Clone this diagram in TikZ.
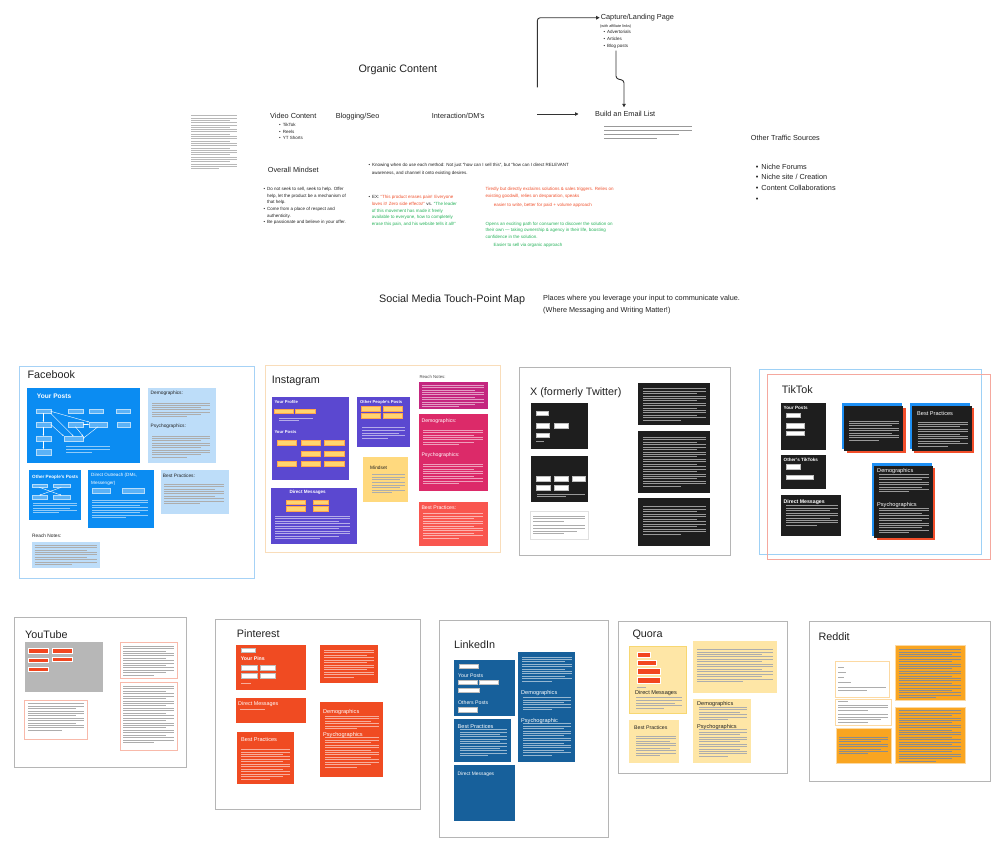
\documentclass[tikz,border=0pt]{standalone}
\usepackage{fontspec}
\setmainfont{Liberation Sans}
\usetikzlibrary{arrows.meta}
\definecolor{ink}{HTML}{222222}
\definecolor{exred}{HTML}{F0522E}
\definecolor{exgreen}{HTML}{27B35B}
\definecolor{fbblue}{HTML}{0B8CF2}
\definecolor{fblight}{HTML}{BDDDF9}
\definecolor{fbframe}{HTML}{A6D2F6}
\definecolor{fbbtn}{HTML}{5BB2F7}
\definecolor{igpurple}{HTML}{5B48D0}
\definecolor{igyellow}{HTML}{FFD470}
\definecolor{igmindset}{HTML}{FFD97E}
\definecolor{igmag}{HTML}{C4267F}
\definecolor{igpink}{HTML}{DC2A69}
\definecolor{igred}{HTML}{F9564F}
\definecolor{igframe}{HTML}{F9DDBA}
\definecolor{xdark}{HTML}{1E1E1E}
\definecolor{frame}{HTML}{B5B5B5}
\definecolor{tkblue}{HTML}{1E90F5}
\definecolor{tkred}{HTML}{F24E2A}
\definecolor{tkframeb}{HTML}{9ED1F6}
\definecolor{tkframer}{HTML}{F5A89E}
\definecolor{ytgray}{HTML}{B7B7B7}
\definecolor{ytred}{HTML}{F2461F}
\definecolor{ytcard}{HTML}{F8B9AA}
\definecolor{pired}{HTML}{F04B22}
\definecolor{liblue}{HTML}{17609B}
\definecolor{quyellow}{HTML}{FEE6A6}
\definecolor{quborder}{HTML}{F7D772}
\definecolor{rdorange}{HTML}{F9A521}
\definecolor{rdlight}{HTML}{FCD9A2}
% text placeholder lines: x, y, width, count, spacing, style
\newcommand{\tls}[6]{\foreach \k in {1,...,#4}{\pgfmathsetmacro{\ww}{(\k==#4)?0.6*#3:((mod(\k,3)==0)?0.85*#3:#3)}\draw[#6] (#1,{#2+(\k-1)*#5}) -- ++(\ww,0);}}
% rectangle node: name, style, x1, y1, x2, y2
\newcommand{\bnode}[6]{\node[#2, anchor=north west, inner sep=0, outer sep=0, minimum width={(#5)-(#3)}, minimum height={(#6)-(#4)}] (#1) at (#3,#4) {};}
\begin{document}
\begin{tikzpicture}[x=1pt,y=-1pt,
  tk/.style={line width=0.4pt, draw=black!32},
  tw/.style={line width=0.4pt, draw=white, draw opacity=0.55},
  ttl/.style={anchor=base west, inner sep=0, yshift=-3.9pt, font=\fontsize{10.8}{12}\selectfont, text=ink},
  hd/.style={anchor=base west, inner sep=0, yshift=-2.6pt, font=\fontsize{7.3}{9}\selectfont, text=ink},
  bl/.style={anchor=base west, inner sep=0, yshift=-1.6pt, font=\fontsize{4.5}{6}\selectfont, text=ink},
  sw/.style={anchor=base west, inner sep=0, yshift=-1.7pt, font=\bfseries\fontsize{4.6}{6}\selectfont, text=white},
  sd/.style={anchor=base west, inner sep=0, yshift=-1.7pt, font=\fontsize{4.8}{6}\selectfont, text=ink},
  mw/.style={anchor=base west, inner sep=0, yshift=-2pt, font=\fontsize{5.6}{7}\selectfont, text=white},
  md/.style={anchor=base west, inner sep=0, yshift=-2pt, font=\fontsize{5.6}{7}\selectfont, text=ink},
  arr/.style={draw=black!80, line width=0.9pt, -{Triangle[length=3.5pt,width=3.5pt]}},
  fbb/.style={fill=fbbtn, draw=white!70!fbblue, line width=0.3pt},
  fba/.style={draw=white, line width=0.4pt, -{Stealth[length=1.6pt,width=1.4pt]}},
  igb/.style={fill=igyellow, draw=orange!70, line width=0.3pt},
  wb/.style={fill=white, draw=black!25, line width=0.3pt},
  rb/.style={fill=ytred, draw=white, line width=0.4pt}
]
\useasboundingbox (0,0) rectangle (1005,852);
\fill[white] (0,0) rectangle (1005,852);

% ===================== TOP: Organic content =====================
\node[ttl] (organic) at (358.3,68.3) {Organic Content};
\tls{191}{115.5}{46}{24}{2.3}{tk, line width=0.3pt, draw=black!28}
\node[hd] (video) at (270,116) {Video Content};
\node[bl] (v1) at (279,125) {\textbullet\hspace{2pt}TikTok};
\node[bl] (v2) at (279,131.5) {\textbullet\hspace{2pt}Reels};
\node[bl] (v3) at (279,138) {\textbullet\hspace{2pt}YT Shorts};
\node[hd] (blog) at (335.7,116) {Blogging/Seo};
\node[hd] (inter) at (431.7,116) {Interaction/DM's};

\node[hd] (capture) at (600.7,17) {Capture/Landing Page};
\node[bl, font=\fontsize{3.8}{5}\selectfont] (aff) at (600,25.7) {(with affiliate links)};
\node[bl] (c1) at (603.3,32.3) {\textbullet\hspace{2pt}Advertorials};
\node[bl] (c2) at (603.3,39) {\textbullet\hspace{2pt}Articles};
\node[bl] (c3) at (603.3,45.7) {\textbullet\hspace{2pt}Blog posts};
\node[hd] (email) at (595,114) {Build an Email List};
\tls{604}{126}{88}{4}{4}{tk, line width=0.35pt, draw=black!40}

\coordinate (a1) at (537.3,114);
\draw[arr, shorten >=16.5pt] (a1) -- (a1 -| email.west);
\coordinate (a2) at (537.3,87.3);
\draw[arr, rounded corners=3pt, shorten >=1pt] (a2) |- (capture.west);
\coordinate (b1) at (616,50.7);
\coordinate (b2) at (624,107.3);
\draw[arr, rounded corners=2.5pt] (b1) -- (616,78.5) -- (624,80.5) -- (b2);

\node[hd] (other) at (750.7,138.3) {Other Traffic Sources};
\node[hd] (o1) at (755.7,166.7) {\textbullet\hspace{3pt}Niche Forums};
\node[hd] (o2) at (755.7,177.3) {\textbullet\hspace{3pt}Niche site / Creation};
\node[hd] (o3) at (755.7,188) {\textbullet\hspace{3pt}Content Collaborations};
\node[hd] (o4) at (755.7,199) {\textbullet};

\node[hd] (mind) at (267.7,170) {Overall Mindset};
\node[bl] (m1) at (263.3,189) {\textbullet\hspace{2pt}Do not seek to sell, seek to help. Offer};
\node[bl] (m2) at (267,195.7) {help, let the product be a mechanism of};
\node[bl] (m3) at (267,202.3) {that help.};
\node[bl] (m4) at (263.3,209) {\textbullet\hspace{2pt}Come from a place of respect and};
\node[bl] (m5) at (267,215.7) {authenticity.};
\node[bl] (m6) at (263.3,222.3) {\textbullet\hspace{2pt}Be passionate and believe in your offer.};

\node[bl] (k1) at (368.3,165.3) {\textbullet\hspace{2pt}Knowing when do use each method: Not just “how can I sell this”, but “how can I direct RELEVANT};
\node[bl] (k2) at (371.7,172.7) {awareness, and channel it onto existing desires.};

\node[bl] (e1) at (368.3,197.3) {\textbullet\hspace{2pt}EX: \textcolor{exred}{“This product erases pain! Everyone}};
\node[bl] (e2) at (371.7,204) {\textcolor{exred}{loves it! Zero side effects!”} vs. \textcolor{exgreen}{“The leader}};
\node[bl, text=exgreen] (e3) at (371.7,210.7) {of this movement has made it freely};
\node[bl, text=exgreen] (e4) at (371.7,217.3) {available to everyone, how to completely};
\node[bl, text=exgreen] (e5) at (371.7,224) {erase this pain, and his website tells it all!”};

\node[bl, text=exred] (r1) at (485.3,189.3) {Tiredly but directly exclaims solutions \& sales triggers. Relies on};
\node[bl, text=exred] (r2) at (485.3,196) {existing goodwill, relies on desparation, speaks};
\node[bl, text=exred] (r3) at (493.7,205.3) {easier to write, better for paid + volume approach};
\node[bl, text=exgreen] (g1) at (485.3,223.7) {Opens an exciting path for consumer to discover the solution on};
\node[bl, text=exgreen] (g2) at (485.3,230.3) {their own — taking ownership \& agency in their life, boosting};
\node[bl, text=exgreen] (g3) at (485.3,237) {confidence in the solution.};
\node[bl, text=exgreen] (g4) at (493.3,245.3) {Easier to sell via organic approach};

\node[ttl] (smap) at (379,299) {Social Media Touch-Point Map};
\node[hd] (pl1) at (543,298) {Places where you leverage your input to communicate value.};
\node[hd] (pl2) at (543,310) {(Where Messaging and Writing Matter!)};

% ===================== FACEBOOK =====================
\bnode{fbF}{draw=fbframe, line width=0.9pt}{19.3}{366}{254.3}{578.3}
\node[ttl] (fbT) at (27.3,374.3) {Facebook};
\bnode{fbA}{fill=fbblue}{27.3}{387.7}{140.3}{462.7}
\node[sw, yshift=-0.7pt, font=\bfseries\fontsize{6.6}{8}\selectfont] (fbAt) at (36.7,395.7) {Your Posts};
\bnode{fb1}{fbb}{36}{409.3}{50.7}{413.3}
\bnode{fb2}{fbb}{68}{409.3}{82.7}{413.3}
\bnode{fb3}{fbb}{89}{409.3}{103}{413.3}
\bnode{fb4}{fbb}{115.7}{409.3}{130}{413.3}
\bnode{fb5}{fbb}{36}{422}{50.7}{426.7}
\bnode{fb6}{fbb}{68}{422}{82.7}{426.7}
\bnode{fb7}{fbb}{89}{422}{107}{426.7}
\bnode{fb8}{fbb}{116.7}{422}{130}{426.7}
\bnode{fb9}{fbb}{36}{436}{50.7}{441}
\bnode{fb10}{fbb}{63.7}{436}{83}{441}
\bnode{fb11}{fbb}{36}{449}{50.7}{455}
\draw[fba] (fb1) -- (fb5);
\draw[fba] (fb5) -- (fb9);
\draw[fba] (fb9) -- (fb11);
\draw[fba] (fb1.east) -- (fb7.north west);
\draw[fba] (fb1.south east) -- (fb10.north);
\draw[fba] (fb5.east) -- (fb10.north west);
\draw[fba] (fb6.south) -- (fb10.north east);
\draw[fba] (fb7.south) -- (fb10.east);
\draw[fba] (fb6.east) -- (fb7.west);
\tls{66}{446.5}{44}{3}{2.6}{tw}
\bnode{fbD}{fill=fblight}{147.7}{387.7}{215.7}{463.3}
\node[sd] (fbDt) at (150.5,393) {Demographics:};
\tls{152}{402.7}{58}{7}{2.3}{tk}
\node[sd] (fbPt) at (150.5,425.7) {Psychographics:};
\tls{152}{436}{58}{10}{2.3}{tk}
\bnode{fbO}{fill=fbblue}{29}{470}{81.3}{520}
\node[sw] (fbOt) at (32,476.3) {Other People's Posts};
\bnode{fbo1}{fbb}{32}{483.7}{46.7}{487.3}
\bnode{fbo2}{fbb}{52.7}{483.7}{70}{487.3}
\bnode{fbo3}{fbb}{32}{495.3}{46.7}{499.3}
\bnode{fbo4}{fbb}{52.7}{495.3}{70}{499.3}
\draw[fba] (fbo1.south) -- (fbo4.north);
\draw[fba] (fbo2.south) -- (fbo3.north);
\tls{33}{503}{44}{5}{2.4}{tw}
\bnode{fbM}{fill=fbblue}{88.3}{470}{153.7}{528.3}
\node[sw, font=\fontsize{4.6}{6}\selectfont] (fbMt1) at (91,474.7) {Direct Outreach (DMs,};
\node[sw, font=\fontsize{4.6}{6}\selectfont] (fbMt2) at (91,482.7) {Messenger)};
\bnode{fbm1}{fbb}{91.7}{488.3}{110}{492.7}
\bnode{fbm2}{fbb}{121.7}{488.3}{144}{492.7}
\tls{92}{500}{56}{8}{2.5}{tw}
\bnode{fbB}{fill=fblight}{160.7}{470}{228.7}{514}
\node[sd] (fbBt) at (162.7,476) {Best Practices:};
\tls{164}{484}{60}{9}{2.4}{tk}
\node[sd] (fbRt) at (32,535.7) {Reach Notes:};
\bnode{fbR}{fill=fblight}{32}{541.7}{100}{568.3}
\tls{34.5}{545}{62}{9}{2.4}{tk}

% ===================== INSTAGRAM =====================
\bnode{igF}{draw=igframe, line width=0.9pt}{265.7}{365}{500}{552.7}
\node[ttl] (igT) at (271.7,380) {Instagram};
\bnode{igA}{fill=igpurple}{271.7}{397.3}{349.3}{480}
\node[sw, font=\bfseries\fontsize{4.2}{5}\selectfont] (igAt) at (274.3,402) {Your Profile};
\bnode{iga1}{igb}{274}{408.7}{293.3}{412.7}
\bnode{iga2}{igb}{295.3}{408.7}{314.7}{412.7}
\tls{279}{417.7}{34}{2}{2.8}{tw}
\node[sw, font=\bfseries\fontsize{4.2}{5}\selectfont] (igApt) at (274.3,432) {Your Posts};
\bnode{igp1}{igb}{276.7}{440.3}{296}{445}
\bnode{igp2}{igb}{300.7}{440.3}{320}{445}
\bnode{igp3}{igb}{324.3}{440.3}{344}{445}
\bnode{igp4}{igb}{300.7}{450.7}{320}{455.7}
\bnode{igp5}{igb}{324.3}{450.7}{344}{455.7}
\bnode{igp6}{igb}{276.7}{461}{296}{466}
\bnode{igp7}{igb}{300.7}{461}{320}{466}
\bnode{igp8}{igb}{324.3}{461}{344}{466}
\bnode{igO}{fill=igpurple}{357.3}{397.3}{410}{447.3}
\node[sw, font=\bfseries\fontsize{4.2}{5}\selectfont] (igOt) at (360,402) {Other People's Posts};
\bnode{igo1}{igb}{360.7}{406}{380}{410.7}
\bnode{igo2}{igb}{382.7}{406}{402}{410.7}
\bnode{igo3}{igb}{360.7}{413.3}{380}{418}
\bnode{igo4}{igb}{382.7}{413.3}{402}{418}
\tls{362}{427.3}{43}{5}{2.7}{tw}
\bnode{igMs}{fill=igmindset}{362.7}{457.3}{408.3}{501.7}
\node[sd, font=\fontsize{4.8}{6}\selectfont] (igMst) at (370,467.7) {Mindset};
\tls{372}{474.3}{33}{8}{2.6}{tk}
\bnode{igD}{fill=igpurple}{271}{487.7}{356.7}{544.3}
\node[sw, font=\bfseries\fontsize{4.6}{6}\selectfont] (igDt) at (289.3,492) {Direct Messages};
\bnode{igd1}{igb}{286}{500}{305}{504.3}
\bnode{igd2}{igb}{312.7}{500}{327.7}{504.3}
\bnode{igd3}{igb}{286}{506}{305}{510.7}
\bnode{igd4}{igb}{312.7}{506}{327.7}{510.7}
\tls{275}{515.7}{75}{10}{2.5}{tw}
\node[sd, font=\fontsize{4.3}{5}\selectfont, text=black!70] (igRt) at (419.3,376.7) {Reach Notes:};
\bnode{igR}{fill=igmag}{419.3}{382.3}{487.7}{409.3}
\tls{422}{385}{62}{10}{2.4}{tw}
\bnode{igDe}{fill=igpink}{419.3}{414.3}{487.7}{490.7}
\node[sw, font=\fontsize{5.2}{6}\selectfont] (igDet) at (421.3,421) {Demographics:};
\tls{423}{430}{60}{7}{2.4}{tw}
\node[sw, font=\fontsize{5.2}{6}\selectfont] (igPst) at (421.3,455) {Psychographics:};
\tls{423}{464}{60}{9}{2.4}{tw}
\bnode{igB}{fill=igred}{419.3}{501.7}{487.7}{546}
\node[sw, font=\fontsize{5.2}{6}\selectfont] (igBt) at (421.3,507.7) {Best Practices:};
\tls{423}{513.5}{60}{11}{2.45}{tw}

% ===================== X =====================
\bnode{xF}{draw=frame, line width=0.8pt}{519.3}{367.3}{730.7}{555}
\node[ttl] (xT) at (530,391.7) {X (formerly Twitter)};
\bnode{xA}{fill=xdark}{530.7}{402.7}{588}{449.3}
\bnode{xa1}{wb}{535.7}{410.7}{548.3}{414.7}
\bnode{xa2}{wb}{535.7}{423.3}{549}{428}
\bnode{xa3}{wb}{554.3}{423.3}{567.7}{428}
\bnode{xa4}{wb}{535.7}{432.7}{549}{436.7}
\tls{536}{441}{14}{1}{2.4}{tw}
\bnode{xB}{fill=xdark}{530.7}{456}{588}{501.7}
\bnode{xb1}{wb}{535.7}{476}{550}{480.7}
\bnode{xb2}{wb}{554}{476}{568.3}{480.7}
\bnode{xb3}{wb}{571.7}{476}{584.7}{480.7}
\bnode{xb4}{wb}{535.7}{485}{550}{489.7}
\bnode{xb5}{wb}{554}{485}{568.3}{489.7}
\tls{537}{494}{48}{2}{2.6}{tw}
\bnode{xC}{fill=white, draw=black!12, line width=0.5pt}{530}{511.7}{588.7}{539}
\tls{533}{516}{52}{3}{2.6}{tk}
\tls{533}{525.5}{52}{4}{2.6}{tk}
\bnode{xR1}{fill=xdark}{638.3}{383.3}{710}{425.3}
\tls{643}{388.5}{63}{14}{2.4}{tw}
\bnode{xR2}{fill=xdark}{638.3}{430.7}{710}{492.7}
\tls{643}{437}{63}{21}{2.45}{tw}
\bnode{xR3}{fill=xdark}{637.7}{498.3}{710}{546}
\tls{643}{506.5}{63}{12}{2.5}{tw}

% ===================== TIKTOK =====================
\bnode{tkFb}{draw=tkframeb, line width=0.9pt}{759.3}{369.3}{981.7}{554}
\bnode{tkFr}{draw=tkframer, line width=0.9pt}{767.7}{374.3}{990.7}{559}
\node[ttl] (tkT) at (781.7,390) {TikTok};
\bnode{tkA}{fill=xdark}{780.7}{403.3}{825.7}{450}
\node[sw] (tkAt) at (783.5,408) {Your Posts};
\bnode{tka1}{wb}{786}{412.7}{800}{416.7}
\bnode{tka2}{wb}{786}{423.3}{804}{428}
\bnode{tka3}{wb}{786}{430.7}{804}{435.3}
\bnode{tkO}{fill=xdark}{780.7}{455}{825.7}{489.3}
\node[sw] (tkOt) at (783.5,459.5) {Other's TikToks};
\bnode{tko1}{wb}{786}{464.3}{800}{468.7}
\bnode{tko2}{wb}{786}{474.7}{813.3}{479}
\bnode{tkD}{fill=xdark}{780.7}{495}{841.3}{535.7}
\node[sw, font=\bfseries\fontsize{5.2}{6}\selectfont] (tkDt) at (783.5,501.5) {Direct Messages};
\tls{786}{505.5}{52}{9}{2.45}{tw}
\bnode{tk1b}{fill=tkblue}{841.7}{403.3}{901.7}{449.3}
\bnode{tk1r}{fill=tkred}{846.7}{408.3}{905.7}{453.3}
\bnode{tk1}{fill=xdark}{844.3}{405.7}{903.3}{451}
\tls{849}{420.7}{50}{9}{2.4}{tw}
\bnode{tk2b}{fill=tkblue}{910}{403.3}{970}{449.3}
\bnode{tk2r}{fill=tkred}{914}{408}{974}{453.3}
\bnode{tk2}{fill=xdark}{912}{405.7}{972}{451}
\node[mw] (tk2t) at (917,413.7) {Best Practices};
\tls{917.5}{421.7}{50}{11}{2.4}{tw}
\bnode{tk3b}{fill=tkblue}{871.7}{463.3}{931.7}{536}
\bnode{tk3r}{fill=tkred}{876.7}{468.3}{935}{540}
\bnode{tk3}{fill=xdark}{874}{465.7}{933.3}{538}
\node[mw] (tk3t) at (877,470.7) {Demographics};
\tls{879}{474.5}{50}{8}{2.45}{tw}
\node[mw] (tk3p) at (877,504) {Psychographics};
\tls{879}{508}{50}{11}{2.45}{tw}

% ===================== YOUTUBE =====================
\bnode{ytF}{draw=frame, line width=0.8pt}{14.3}{617.3}{186.7}{767.7}
\node[ttl] (ytT) at (25,635) {YouTube};
\bnode{ytA}{fill=ytgray}{25}{642.3}{102.7}{691.7}
\bnode{yt1}{rb}{28.3}{648.3}{47.7}{652.7}
\bnode{yt2}{rb}{52.3}{648.3}{71.7}{652.7}
\bnode{yt3}{rb}{28.3}{657.7}{47.7}{662.3}
\bnode{yt4}{rb}{52.3}{656.7}{71.7}{661.3}
\bnode{yt5}{rb}{28.3}{666.7}{47.7}{671.3}
\bnode{ytC}{fill=white, draw=ytcard, line width=0.8pt}{24.7}{700}{87.7}{739.7}
\tls{28}{703.5}{56}{12}{2.4}{tk}
\bnode{ytR1}{fill=white, draw=ytcard, line width=0.8pt}{120}{642.3}{177.3}{678.7}
\tls{123}{646}{51}{13}{2.4}{tk}
\bnode{ytR2}{fill=white, draw=ytcard, line width=0.8pt}{120}{682.3}{177.3}{750.3}
\tls{123}{686}{51}{24}{2.45}{tk}

% ===================== PINTEREST =====================
\bnode{piF}{draw=frame, line width=0.8pt}{215}{619}{420}{809}
\node[ttl] (piT) at (236.7,634) {Pinterest};
\bnode{piA}{fill=pired}{235.7}{645}{305.7}{690}
\bnode{pia0}{wb}{240.7}{647.7}{255.3}{652.3}
\node[sw, font=\bfseries\fontsize{5.2}{6}\selectfont] (piAt) at (240.7,659) {Your Pins};
\bnode{pia1}{wb}{241.3}{665}{256.7}{669.7}
\bnode{pia2}{wb}{260}{665}{275.3}{669.7}
\bnode{pia3}{wb}{241.3}{672.7}{256.7}{677.7}
\bnode{pia4}{wb}{260}{672.7}{275.3}{677.7}
\tls{241}{682.7}{17}{1}{2.4}{tw}
\bnode{piD}{fill=pired}{235.7}{698.3}{305.7}{723.3}
\node[mw, font=\fontsize{5.4}{6}\selectfont] (piDt) at (238,703) {Direct Messages};
\tls{240}{709.3}{42}{1}{2.4}{tw}
\bnode{piB}{fill=pired}{236.7}{732.3}{294.3}{784.3}
\node[mw] (piBt) at (241,739) {Best Practices};
\tls{241}{749.3}{49}{13}{2.45}{tw}
\bnode{piR}{fill=pired}{320}{645}{377.7}{683.3}
\tls{324}{650}{50}{12}{2.45}{tw}
\bnode{piDe}{fill=pired}{320}{701.7}{383.3}{776.7}
\node[mw] (piDet) at (323,711.3) {Demographics};
\tls{325}{716}{54}{6}{2.5}{tw}
\node[mw] (piPst) at (323,734) {Psychographics};
\tls{325}{737.5}{54}{13}{2.45}{tw}

% ===================== LINKEDIN =====================
\bnode{liF}{draw=frame, line width=0.8pt}{439.3}{620}{608}{837.3}
\node[ttl] (liT) at (454,644.3) {LinkedIn};
\bnode{liA}{fill=liblue}{454}{660}{515.3}{715.7}
\bnode{lia0}{wb}{459}{664.3}{478.3}{668.3}
\node[mw, font=\fontsize{5.2}{6}\selectfont] (liAt) at (458,675) {Your Posts};
\bnode{lia1}{wb}{458.3}{680}{476.7}{684.3}
\bnode{lia2}{wb}{479.3}{680}{498.3}{684.3}
\bnode{lia3}{wb}{458.3}{687.7}{479}{692}
\node[mw, font=\fontsize{5.2}{6}\selectfont] (liOt) at (458,702) {Others Posts};
\bnode{lia4}{wb}{457.7}{707.3}{476.7}{711.7}
\bnode{liB}{fill=liblue}{454}{719.3}{511}{761.7}
\node[mw] (liBt) at (457.5,726.5) {Best Practices};
\tls{460}{729.5}{47}{12}{2.35}{tw}
\bnode{liD}{fill=liblue}{454}{765.3}{515.3}{821.3}
\node[mw, font=\fontsize{4.9}{6}\selectfont] (liDt) at (457.5,773.3) {Direct Messages};
\bnode{liR}{fill=liblue}{518.3}{651.7}{575.3}{761.7}
\tls{522}{656.7}{50}{11}{2.4}{tw}
\node[mw] (liDet) at (521,692.3) {Demographics};
\tls{523}{697.3}{48}{6}{2.45}{tw}
\node[mw] (liPst) at (521,720) {Psychographic};
\tls{523}{723.5}{48}{14}{2.4}{tw}

% ===================== QUORA =====================
\bnode{quF}{draw=frame, line width=0.8pt}{618.3}{621}{787.3}{773.3}
\node[ttl] (quT) at (632.3,633.3) {Quora};
\bnode{quA}{fill=quyellow, draw=quborder, line width=0.8pt}{629}{646}{686.7}{713.3}
\bnode{qu1}{rb}{636.7}{651.7}{650}{656.7}
\bnode{qu2}{rb}{636.7}{660}{656}{665}
\bnode{qu3}{rb}{636.7}{668.3}{660}{674}
\bnode{qu4}{rb}{636.7}{677.3}{660}{682.7}
\tls{637}{686.7}{15}{1}{2.4}{tk}
\node[md] (quDt) at (635,692.7) {Direct Messages};
\tls{636}{697.5}{46}{5}{2.6}{tk}
\bnode{quB}{fill=quyellow}{629.3}{720}{679}{763.3}
\node[md, font=\fontsize{5.2}{6}\selectfont] (quBt) at (634,727.3) {Best Practices};
\tls{636}{736}{40}{9}{2.4}{tk}
\bnode{quR}{fill=quyellow}{693.3}{640.7}{776.7}{692.7}
\tls{697}{649.3}{76}{14}{2.45}{tk}
\bnode{quDe}{fill=quyellow}{693.3}{699.3}{750.7}{763.3}
\node[md] (quDet) at (697,703.5) {Demographics};
\tls{699}{707}{48}{6}{2.45}{tk}
\node[md] (quPst) at (697,726) {Psychographics};
\tls{699}{729.5}{48}{12}{2.4}{tk}

% ===================== REDDIT =====================
\bnode{rdF}{draw=frame, line width=0.8pt}{809}{621.7}{990.7}{781.7}
\node[ttl] (rdT) at (818.3,636.7) {Reddit};
\bnode{rdA}{fill=white, draw=rdlight, line width=0.8pt}{835}{661.7}{889}{697.3}
\tls{838}{666.7}{10}{1}{2.4}{tk}
\tls{838}{672.3}{13}{1}{2.4}{tk}
\tls{838}{677}{10}{1}{2.4}{tk}
\tls{838}{682}{22}{1}{2.4}{tk}
\tls{838}{687.3}{48}{2}{2.6}{tk}
\bnode{rdB}{fill=white, draw=rdlight, line width=0.8pt}{835}{699.3}{891.7}{725}
\tls{838}{701}{17}{1}{2.4}{tk}
\tls{838}{705}{50}{3}{2.5}{tk}
\tls{838}{714.3}{50}{4}{2.5}{tk}
\bnode{rdC}{fill=rdorange, draw=rdlight, line width=0.5pt}{836}{728.3}{891.7}{763.3}
\tls{839}{736.7}{49}{8}{2.4}{tk, draw=black!45}
\bnode{rdR1}{fill=rdorange, draw=rdlight, line width=0.5pt}{895}{645}{965}{700.7}
\tls{899}{649.3}{62}{21}{2.4}{tk, draw=black!45}
\bnode{rdR2}{fill=rdorange, draw=rdlight, line width=0.5pt}{895}{707.3}{965}{763.3}
\tls{899}{710.5}{62}{22}{2.4}{tk, draw=black!45}
\end{tikzpicture}
\end{document}
